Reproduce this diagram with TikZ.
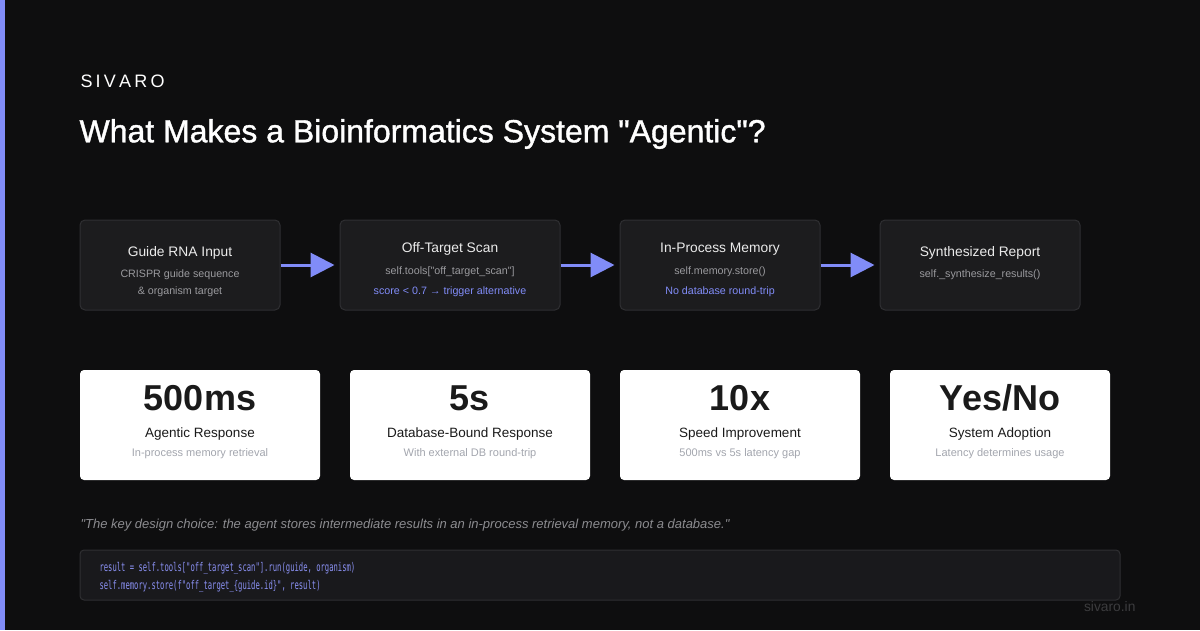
\documentclass[tikz,border=0pt]{standalone}
\usepackage{fontspec}
\setmainfont{Liberation Sans}
\setmonofont{DejaVu Sans Mono}
\newfontfamily\titlefont[FakeBold=1.2]{Liberation Sans}
\newfontfamily\codefont[FakeStretch=0.6]{DejaVu Sans Mono}
\usetikzlibrary{arrows.meta}
\definecolor{bg}{HTML}{0E0E0F}
\definecolor{accent}{HTML}{818CF8}
\definecolor{codecol}{HTML}{8A90F2}
\definecolor{boxfill}{HTML}{1C1C1E}
\definecolor{boxline}{HTML}{2F2F32}
\definecolor{subgray}{HTML}{9A9A9E}
\definecolor{cardsub}{HTML}{A3A6AE}
\definecolor{dark}{HTML}{1A1A1A}
\definecolor{codefill}{HTML}{19191C}
\definecolor{quote}{HTML}{8C8C90}
\definecolor{foot}{HTML}{3C3C3E}
\tikzset{
  flowbox/.style={draw=boxline, line width=1pt, fill=boxfill, rounded corners=5pt},
  card/.style={fill=white, rounded corners=4pt},
  ftitle/.style={text=white!92!black, font=\fontsize{13.8}{16}\selectfont},
  fsub/.style={text=subgray, font=\fontsize{10.7}{13}\selectfont},
  fblue/.style={text=accent, font=\fontsize{10.7}{13}\selectfont},
  big/.style={text=dark, font=\fontsize{36}{40}\selectfont\bfseries},
  clabel/.style={text=dark, font=\fontsize{13.5}{16}\selectfont},
  csub/.style={text=cardsub, font=\fontsize{11}{13}\selectfont},
  codeline/.style={anchor=west, text=codecol, font=\fontsize{12}{13}\codefont},
  flow/.style={draw=accent, line width=3pt, -{Triangle[length=24pt,width=24pt]}},
}
\begin{document}
\begin{tikzpicture}[x=1pt,y=-1pt]
\fill[bg] (0,0) rectangle (1200,630);
\useasboundingbox (0,0) rectangle (1200,630);
\fill[accent] (0,0) rectangle (5,630);
\node[anchor=west, text=white, font=\fontsize{18}{20}\selectfont] (brand) at (77,81) {S\hspace{3.2pt}I\hspace{3.2pt}V\hspace{3.2pt}A\hspace{3.2pt}R\hspace{3.2pt}O};
\node[anchor=west, text=white, font=\fontsize{32}{36}\titlefont] (title) at (76,134) {What Makes a Bioinformatics System \textquotedbl Agentic\textquotedbl ?};
% flow boxes
\node[flowbox, minimum width=200pt, minimum height=90pt] (b1) at (180,265) {};
\node[flowbox, minimum width=220pt, minimum height=90pt] (b2) at (450,265) {};
\node[flowbox, minimum width=200pt, minimum height=90pt] (b3) at (720,265) {};
\node[flowbox, minimum width=200pt, minimum height=90pt] (b4) at (980,265) {};
\node[ftitle] (t1) at (180,253) {Guide RNA Input};
\node[fsub] (s1a) at (180,275) {CRISPR guide sequence};
\node[fsub] (s1b) at (180,292) {\& organism target};
\node[ftitle] (t2) at (450,249) {Off-Target Scan};
\node[fsub] (s2a) at (450,272) {self.tools[\textquotedbl off\_target\_scan\textquotedbl ]};
\node[fblue] (s2b) at (450,292) {score < 0.7 → trigger alternative};
\node[ftitle] (t3) at (720,249) {In-Process Memory};
\node[fsub] (s3a) at (720,272) {self.memory.store()};
\node[fblue] (s3b) at (720,292) {No database round-trip};
\node[ftitle] (t4) at (980,253) {Synthesized Report};
\node[fsub] (s4a) at (980,275) {self.\_synthesize\_results()};
\draw[flow] (b1.east) -- ++(54,0) coordinate (e1);
\draw[flow] (b2.east) -- ++(54,0) coordinate (e2);
\draw[flow] (b3.east) -- ++(54,0) coordinate (e3);
% cards
\node[card, minimum width=240pt, minimum height=110pt] (c1) at (200,425) {};
\node[card, minimum width=240pt, minimum height=110pt] (c2) at (470,425) {};
\node[card, minimum width=240pt, minimum height=110pt] (c3) at (740,425) {};
\node[card, minimum width=220pt, minimum height=110pt] (c4) at (1000,425) {};
\node[big] (n1) at (200,398) {500ms};
\node[clabel] (l1) at (200,434) {Agentic Response};
\node[csub] (u1) at (200,454) {In-process memory retrieval};
\node[big] (n2) at (470,398) {5s};
\node[clabel] (l2) at (470,434) {Database-Bound Response};
\node[csub] (u2) at (470,454) {With external DB round-trip};
\node[big] (n3) at (740,398) {10x};
\node[clabel] (l3) at (740,434) {Speed Improvement};
\node[csub] (u3) at (740,454) {500ms vs 5s latency gap};
\node[big] (n4) at (1000,398) {Yes/No};
\node[clabel] (l4) at (1000,434) {System Adoption};
\node[csub] (u4) at (1000,454) {Latency determines usage};
% quote
\node[anchor=west, text=quote, font=\fontsize{13}{15}\selectfont\itshape] (q) at (77,525) {\textquotedbl The key design choice: the agent stores intermediate results in an in-process retrieval memory, not a database.\textquotedbl};
% code
\node[draw=boxline, line width=1pt, fill=codefill, rounded corners=4pt, minimum width=1040pt, minimum height=50pt] (code) at (600,575) {};
\node[codeline] (c1l) at (96,568) {result = self.tools[\char34 off\_target\_scan\char34 ].run(guide, organism)};
\node[codeline] (c2l) at (96,586) {self.memory.store(f\char34 off\_target\_\{guide.id\}\char34 , result)};
\node[anchor=east, text=foot, font=\fontsize{13.8}{15}\selectfont] (site) at (1139,607) {sivaro.in};
\end{tikzpicture}
\end{document}
